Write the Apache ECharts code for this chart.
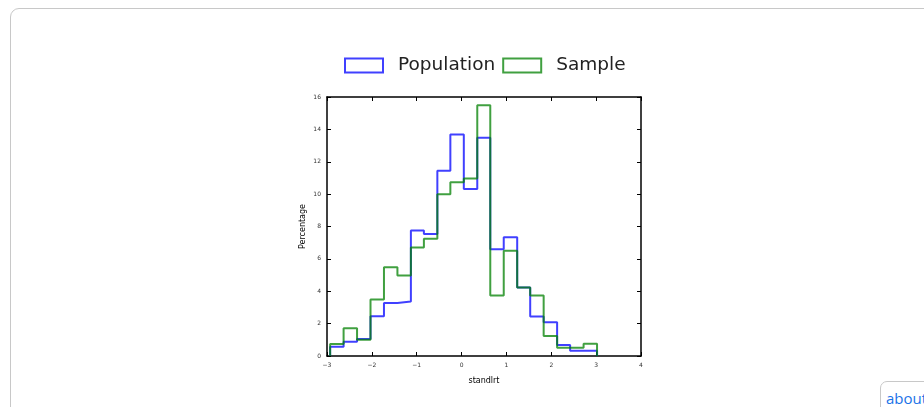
<!DOCTYPE html>
<html>
<head>
<meta charset="utf-8">
<script src="https://cdn.jsdelivr.net/npm/echarts@6/dist/echarts.min.js"></script>
<style>
  html, body { margin: 0; padding: 0; background: #fff; overflow: hidden; }
  #frame { position: absolute; left: 10px; top: 8px; width: 940px; height: 440px;
           border: 1px solid #c8c8c8; border-radius: 9px; }
  #chart { position: absolute; left: 0; top: 0; width: 924px; height: 407px; }
  #about { position: absolute; left: 880px; top: 381px; width: 70px; height: 40px;
           border: 1px solid #c8c8c8; border-radius: 7px; background: #fff;
           font-family: 'Open Sans', sans-serif; font-size: 15px; color: #1a73e8;
           padding: 6px 0 0 5px; box-sizing: border-box; }
</style>
</head>
<body>
<div id="frame"></div>
<div id="chart"></div>
<div id="about">about</div>
<script>
// bin edges of the histogram (standlrt)
const binEdges = [-2.93, -2.63, -2.33, -2.03, -1.73, -1.43, -1.13, -0.84, -0.54, -0.25,
                  0.05, 0.35, 0.64, 0.94, 1.24, 1.53, 1.83, 2.13, 2.42, 2.72, 3.02]
// percentage per bin
const population = [0.57, 0.88, 1.05, 2.46, 3.28, 3.36, 7.75, 7.53, 11.45, 13.68,
                    10.32, 13.48, 6.6, 7.34, 4.23, 2.44, 2.09, 0.68, 0.33, 0.33]
const sample = [0.74, 1.72, 1.0, 3.49, 5.48, 4.98, 6.71, 7.24, 9.99, 10.73,
                10.97, 15.49, 3.73, 6.5, 4.23, 3.73, 1.23, 0.51, 0.51, 0.76]
const seriesNames = ['Population', 'Sample']

// outline of a step histogram
function stepData(vals) {
  const d = [[binEdges[0], 0]]
  vals.forEach((v, i) => d.push([binEdges[i], v]))
  d.push([binEdges[binEdges.length - 1], 0])
  return d
}

const fmt = v => String(v).replace('-', '\u2212')
const font = 'DejaVu Sans'
const axLine = { show: true, onZero: false, lineStyle: { color: '#000', width: 1.5 } }
const tick = { show: true, inside: true, length: 4, lineStyle: { color: '#000', width: 1 } }

const chart = echarts.init(document.getElementById('chart'))
chart.setOption({
  animation: false,
  textStyle: { fontFamily: font },
  legend: {
    top: 51, left: 339,
    itemWidth: 38, itemHeight: 14, itemGap: 7,
    icon: 'rect',
    textStyle: { fontSize: 18.5, color: '#222', fontFamily: font, padding: [0, 0, 0, 10] },
    data: seriesNames
  },
  grid: { left: 327, top: 97, width: 314, height: 259 },
  xAxis: [{
    type: 'value', min: -3, max: 4, interval: 1,
    name: 'standlrt', nameLocation: 'middle', nameGap: 21,
    nameTextStyle: { fontSize: 8, color: '#000' },
    axisLine: axLine, axisTick: tick, splitLine: { show: false },
    axisLabel: { fontSize: 6, color: '#333', margin: 6, formatter: fmt }
  }, {
    type: 'value', min: -3, max: 4, interval: 1, position: 'top',
    axisLine: axLine, axisTick: tick, splitLine: { show: false },
    axisLabel: { show: false }
  }],
  yAxis: [{
    type: 'value', min: 0, max: 16, interval: 2,
    name: 'Percentage', nameLocation: 'middle', nameGap: 20,
    nameTextStyle: { fontSize: 8, color: '#000' },
    axisLine: axLine, axisTick: tick, splitLine: { show: false },
    axisLabel: { fontSize: 6, color: '#333', margin: 6 }
  }, {
    type: 'value', min: 0, max: 16, interval: 2, position: 'right',
    axisLine: axLine, axisTick: tick, splitLine: { show: false },
    axisLabel: { show: false }
  }],
  series: [{
    name: seriesNames[0], type: 'line', step: 'end', symbol: 'none',
    data: stepData(population),
    lineStyle: { color: 'rgba(0,0,255,0.75)', width: 2 },
    itemStyle: { color: 'rgba(0,0,0,0)', borderColor: 'rgba(0,0,255,0.75)', borderWidth: 1.5 }
  }, {
    name: seriesNames[1], type: 'line', step: 'end', symbol: 'none',
    data: stepData(sample),
    lineStyle: { color: 'rgba(0,128,0,0.75)', width: 2 },
    itemStyle: { color: 'rgba(0,0,0,0)', borderColor: 'rgba(0,128,0,0.75)', borderWidth: 1.5 }
  }]
})
</script>
</body>
</html>
